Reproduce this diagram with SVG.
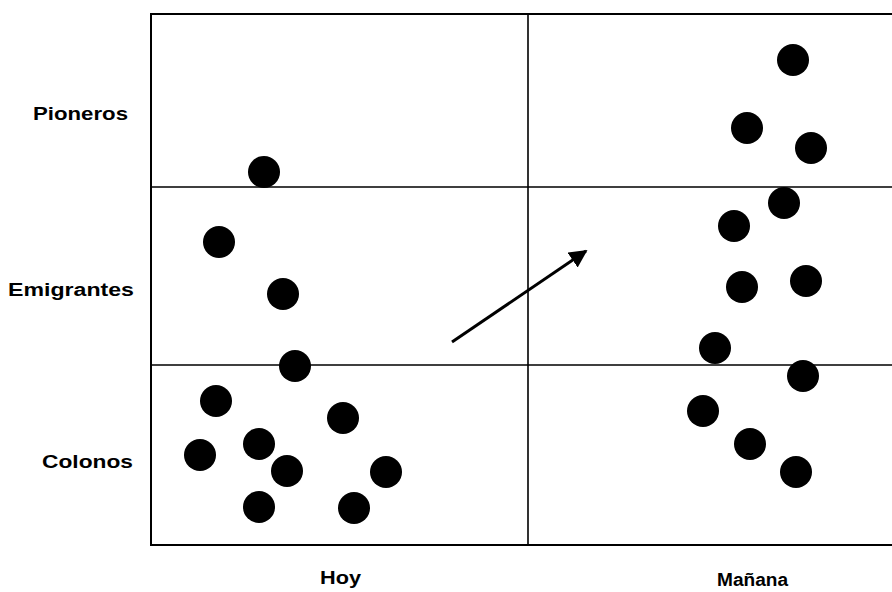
<svg xmlns="http://www.w3.org/2000/svg" width="892" height="592" viewBox="0 0 892 592">
<style>
.grid{stroke:#000;stroke-width:2;fill:none}
.inner{stroke:#000;stroke-width:1.6;fill:none}
.dot{fill:#000}
.lbl{font-family:"Liberation Sans",Arial,sans-serif;font-weight:bold;font-size:18px;fill:#000}
</style>
<defs>
<marker id="ah" viewBox="0 0 10 10" refX="9" refY="5" markerWidth="6" markerHeight="6" orient="auto" markerUnits="strokeWidth">
<path d="M0,0 L10,5 L0,10 z" fill="#000"/>
</marker>
</defs>
<rect width="892" height="592" fill="#fff"/>
<g id="grid">
<path class="grid" d="M896,14 H151 V545 H896"/>
<path class="inner" d="M528,14 V545 M151,187 H896 M151,365 H896"/>
</g>
<g id="labels">
<text class="lbl" x="33" y="120" textLength="95" lengthAdjust="spacingAndGlyphs">Pioneros</text>
<text class="lbl" x="8" y="296" textLength="126" lengthAdjust="spacingAndGlyphs">Emigrantes</text>
<text class="lbl" x="42" y="468" textLength="91" lengthAdjust="spacingAndGlyphs">Colonos</text>
<text class="lbl" x="320" y="584" textLength="41" lengthAdjust="spacingAndGlyphs">Hoy</text>
<text class="lbl" x="717" y="586" textLength="71" lengthAdjust="spacingAndGlyphs">Mañana</text>
</g>
<g id="hoy">
<circle class="dot" cx="264" cy="172" r="16"/>
<circle class="dot" cx="219" cy="242" r="16"/>
<circle class="dot" cx="283" cy="294" r="16"/>
<circle class="dot" cx="295" cy="366" r="16"/>
<circle class="dot" cx="216" cy="401" r="16"/>
<circle class="dot" cx="343" cy="418" r="16"/>
<circle class="dot" cx="259" cy="444" r="16"/>
<circle class="dot" cx="200" cy="455" r="16"/>
<circle class="dot" cx="287" cy="471" r="16"/>
<circle class="dot" cx="386" cy="472" r="16"/>
<circle class="dot" cx="259" cy="507" r="16"/>
<circle class="dot" cx="354" cy="508" r="16"/>
</g>
<g id="manana">
<circle class="dot" cx="793" cy="60" r="16"/>
<circle class="dot" cx="747" cy="128" r="16"/>
<circle class="dot" cx="811" cy="148" r="16"/>
<circle class="dot" cx="784" cy="203" r="16"/>
<circle class="dot" cx="734" cy="226" r="16"/>
<circle class="dot" cx="742" cy="287" r="16"/>
<circle class="dot" cx="806" cy="281" r="16"/>
<circle class="dot" cx="715" cy="348" r="16"/>
<circle class="dot" cx="803" cy="376" r="16"/>
<circle class="dot" cx="703" cy="411" r="16"/>
<circle class="dot" cx="750" cy="444" r="16"/>
<circle class="dot" cx="796" cy="472" r="16"/>
</g>
<g id="connectors">
<line x1="452" y1="342" x2="586" y2="251" stroke="#000" stroke-width="3" marker-end="url(#ah)"/>
</g>
</svg>
